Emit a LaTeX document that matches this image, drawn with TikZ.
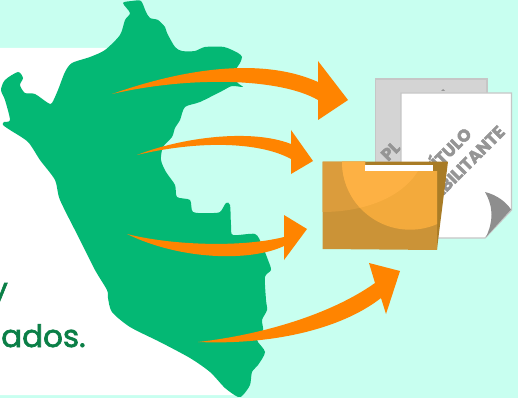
\documentclass[tikz,border=0pt]{standalone}
\usepackage{fontspec}
\setmainfont{Poppins}[FakeBold=2]
\newfontfamily\docfont{Poppins}[BoldFeatures={FakeBold=2.5}]
\usetikzlibrary{calc}
\definecolor{cmint}{HTML}{C8FFF0}
\definecolor{cgreen}{HTML}{04B874}
\definecolor{cdark}{HTML}{0B7F47}
\definecolor{corange}{HTML}{FF8400}
\definecolor{cpage}{HTML}{C6C6C6}
\definecolor{cback}{HTML}{D4D4D4}
\definecolor{cink}{HTML}{959595}
\definecolor{cflap}{HTML}{A97C26}
\definecolor{cfolder}{HTML}{CB9337}
\definecolor{cband}{HTML}{DB9C3C}
\definecolor{cround}{HTML}{F3AA3C}
\definecolor{cglow}{HTML}{FDB144}
\tikzset{
  bigarrow/.style={fill=corange},
  sheet/.style={draw=cpage, line width=1.3pt},
  stamp/.style={font=\docfont\bfseries\fontsize{17}{17}\selectfont, text=cink, rotate=45, inner sep=0pt},
  caption/.style={font=\fontsize{31}{31}\selectfont, text=cdark, inner sep=0pt},
}

\begin{document}
\begin{tikzpicture}[x=1pt, y=-1pt]
  \useasboundingbox (0,0) rectangle (518,398);
  \clip (0,0) rectangle (518,398);
  \fill[cmint] (0,0) rectangle (518,398);
  \fill[white] (0,48) -- (120,48) -- (150,200) -- (236,393) -- (236,395) -- (0,395) -- cycle;
  \node[caption, anchor=base east] (lineone) at (8,300) {y};
  \node[caption, anchor=base west] (linetwo) at (1,347) {ados.};
  % map
  \fill[cgreen] plot[smooth cycle, tension=0.45] coordinates {
    (123,3) (132,1) (141,1) (146,12) (150,18) (158,20) (165,27) (167,33) (175,47) (182,51)
    (195,51) (205,47) (224,47) (238,53) (242,57) (240,63) (236,70) (237,82) (243,87) (232,86)
    (222,91) (200,102) (185,107) (180,120) (175,128) (172,137) (163,147) (161,160) (166,172) (175,185)
    (177,197) (190,200) (193,212) (210,213) (220,212) (226,203) (230,205) (231,225) (233,235) (255,234)
    (262,245) (268,260) (271,270) (265,277) (266,300) (267,310) (262,320) (263,330) (257,340) (265,352)
    (258,365) (252,372) (250,385) (243,395) (238,397) (225,388) (210,372) (190,358) (160,342) (130,327)
    (112,312) (108,298) (107,290) (95,270) (80,240) (60,200) (55,180) (40,160) (28,142) (10,130)
    (3,125) (4,122) (10,120) (5,100) (1,90) (5,80) (18,72) (23,78) (20,85) (25,93)
    (35,94) (48,103) (52,103) (58,90) (65,72) (72,63) (90,57) (105,50) (120,35) (125,20)
    (130,13)};
  % papers
  \draw[sheet, fill=cback] (375.5,79) rectangle (487,170);
  \node[stamp, anchor=base west] (backtitle) at (388,162) {PL};
  \fill[cink] (443,89) -- (445,91) -- (441,91) -- cycle;
  \draw[sheet, fill=white] (401,93) -- (511.5,93) -- (511.5,210) -- (485,238) -- (401,238) -- cycle;
  \node[stamp, anchor=base east] (titleone) at (473,135) {TÍTULO};
  \node[stamp, anchor=base east] (titletwo) at (506,133) {HABILITANTE};
  \fill[cink!95!black] (485,192) .. controls (497,195) and (506,202) .. (511,209.5)
    -- (486,237) .. controls (493,222) and (494,208) .. cycle;
  % folder
  \fill[cflap] (365,161.5) -- (448,161.5) -- (437,249) -- (400,240) -- (365,240) -- cycle;
  \begin{scope}
    \clip (322.5,161.5) -- (365,161.5) -- (365,171) -- (437,171) -- (437,250) -- (322.5,249) -- cycle;
    \fill[cfolder] (322,161) rectangle (438,250);
    \fill[cband] (322,161) -- (322,212) .. controls (360,212) and (400,200) .. (418,171) -- (438,161) -- cycle;
    \fill[cround] (410,161.7) circle (68);
    \clip (322,161) -- (322,212) .. controls (360,212) and (400,200) .. (418,171) -- (438,161) -- cycle;
    \fill[cglow] (410,161.7) circle (68);
  \end{scope}
  \fill[white] (365,165) rectangle (433,171);
  % arrows
  \fill[bigarrow] (112,94) .. controls (180,70) and (260,56) .. (318,82) -- (318,61) -- (348,100) -- (318,120)
    -- (318,100) .. controls (280,78) and (190,76) .. (112,94) -- cycle;
  \fill[bigarrow] (137,155) .. controls (180,138) and (250,128) .. (291,144) -- (291,130) -- (313,161) -- (291,174)
    -- (291,159) .. controls (260,142) and (200,140) .. (137,155) -- cycle;
  \fill[bigarrow] (127,234) .. controls (170,245) and (240,248) .. (284,237) -- (284,215) -- (307,229) -- (284,260)
    -- (284,246) .. controls (250,262) and (180,260) .. (127,234) -- cycle;
  \fill[bigarrow] (198,342) .. controls (260,335) and (330,315) .. (375,283) -- (369,263) -- (400,271) -- (386,314)
    -- (381,298) .. controls (340,330) and (270,345) .. (198,342) -- cycle;
\end{tikzpicture}
\end{document}
